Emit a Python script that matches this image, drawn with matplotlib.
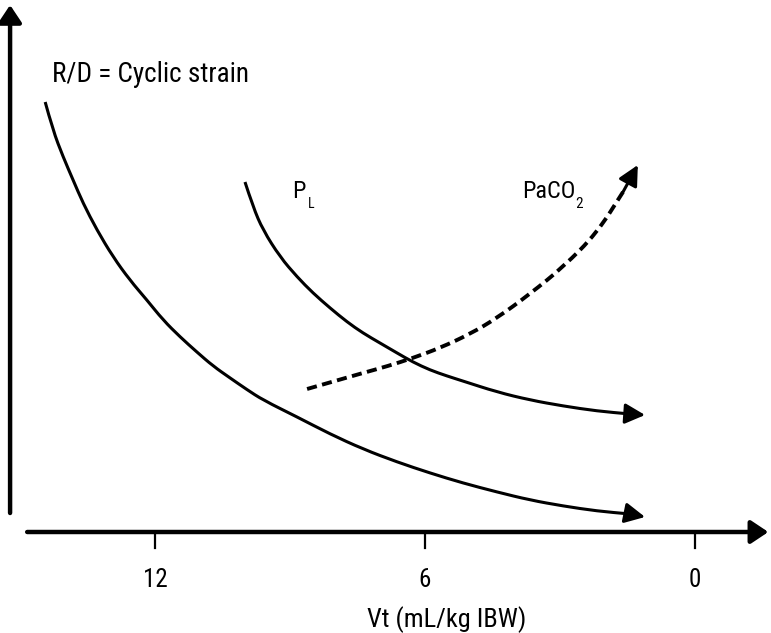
import matplotlib
matplotlib.use('Agg')
import matplotlib.pyplot as plt
from matplotlib.path import Path
from matplotlib.patches import PathPatch

plt.rcParams['font.family'] = ['Roboto Condensed', 'Archivo Narrow', 'Barlow Condensed',
                               'Liberation Sans Narrow', 'Roboto', 'DejaVu Sans']

# x = Vt (mL/kg IBW), y = arbitrary units
rd_x = [14.44, 14.27, 14.04, 13.82, 13.6, 13.29, 12.93, 12.56, 12.18, 11.82,
        11.44, 11.07, 10.71, 10.33, 9.96, 9.6, 8.84, 8.11, 7.38, 6.62,
        5.89, 5.16, 4.4, 3.67, 2.93, 2.18, 1.44]
rd_y = [43.0, 40.2, 37.5, 35.2, 32.9, 30.2, 27.5, 25.2, 23.2, 21.2,
        19.5, 18.0, 16.6, 15.4, 14.25, 13.2, 11.5, 9.8, 8.3, 7.0,
        5.9, 4.9, 4.0, 3.2, 2.6, 2.1, 1.8]
rd_tip = (1.11, 1.5)

pl_x = [10.0, 9.82, 9.6, 9.22, 8.84, 8.49, 8.11, 7.73, 7.38, 7.0,
        6.62, 6.27, 5.89, 5.51, 5.16, 4.4, 3.67, 2.93, 2.18, 1.44]
pl_y = [35.0, 32.5, 30.2, 27.5, 25.5, 23.9, 22.4, 21.0, 19.9, 18.9,
        17.9, 17.0, 16.2, 15.6, 15.1, 14.0, 13.2, 12.6, 12.1, 11.8]
pl_tip = (1.11, 11.7)

co2_x = [8.62, 8.0, 7.38, 6.82, 6.27, 5.67, 5.0, 4.4, 3.67, 2.93, 2.18, 1.6]
co2_y = [14.3, 15.1, 15.9, 16.6, 17.4, 18.4, 19.8, 21.4, 23.8, 26.5, 29.9, 34.0]
co2_tip = (1.27, 36.7)

ticks = [12, 6, 0]
tick_labels = ['12', '6', '0']


def smooth_curve(ax, xs, ys, **kw):
    # quadratic bezier through midpoints, the read points act as controls
    verts = [(xs[0], ys[0])]
    codes = [Path.MOVETO]
    for i in range(1, len(xs) - 1):
        verts += [(xs[i], ys[i]), ((xs[i] + xs[i + 1]) / 2, (ys[i] + ys[i + 1]) / 2)]
        codes += [Path.CURVE3, Path.CURVE3]
    verts.append((xs[-1], ys[-1]))
    codes.append(Path.LINETO)
    ax.add_patch(PathPatch(Path(verts, codes), fill=False, edgecolor='black',
                           transform=ax.transData, **kw))


fig = plt.figure(figsize=(7.71, 6.33), dpi=100)
ax = fig.add_axes([0, 0, 1, 1])
ax.set_xlim(15.444, -1.689)
ax.set_ylim(-10.1, 53.2)
ax.axis('off')

head = dict(arrowstyle='-|>,head_length=0.87,head_width=0.44', color='black',
            lw=2.2, mutation_scale=14, shrinkA=0, shrinkB=0)

# axes drawn as arrows
ax_head = dict(arrowstyle='-|>,head_length=0.75,head_width=0.5', color='black',
               lw=3.2, mutation_scale=14, shrinkA=0, shrinkB=0)
ax.annotate('', xy=(-1.63, 0), xytext=(14.84, 0), arrowprops=ax_head)
ax.annotate('', xy=(15.22, 52.7), xytext=(15.22, 1.9), arrowprops=ax_head)

for t, lab in zip(ticks, tick_labels):
    ax.plot([t, t], [0, -1.6], color='black', lw=1.6)
    ax.text(t, -5.5, lab, ha='center', va='baseline', fontsize=18)

ax.text(5.51, -9.5, 'Vt (mL/kg IBW)', ha='center', va='baseline', fontsize=19)

# curves
smooth_curve(ax, rd_x, rd_y, lw=2.2, capstyle='butt')
ax.annotate('', xy=rd_tip, xytext=(rd_x[-1], rd_y[-1]), arrowprops=head)

smooth_curve(ax, pl_x, pl_y, lw=2.2, capstyle='butt')
ax.annotate('', xy=pl_tip, xytext=(pl_x[-1], pl_y[-1]), arrowprops=head)

smooth_curve(ax, co2_x, co2_y, lw=2.8, linestyle=(0, (2.6, 1.4)))
ax.annotate('', xy=co2_tip, xytext=(co2_x[-1], co2_y[-1]), arrowprops=head)

# labels
ax.text(14.29, 45.0, 'R/D = Cyclic strain', ha='left', va='baseline', fontsize=19.5)
ax.text(8.96, 33.4, 'P', ha='left', va='baseline', fontsize=17.5)
ax.text(8.6, 32.4, 'L', ha='left', va='baseline', fontsize=10)
ax.text(3.84, 33.4, 'PaCO', ha='left', va='baseline', fontsize=17.5)
ax.text(2.66, 32.4, '2', ha='left', va='baseline', fontsize=11)

fig.savefig('out.png', dpi=100)
